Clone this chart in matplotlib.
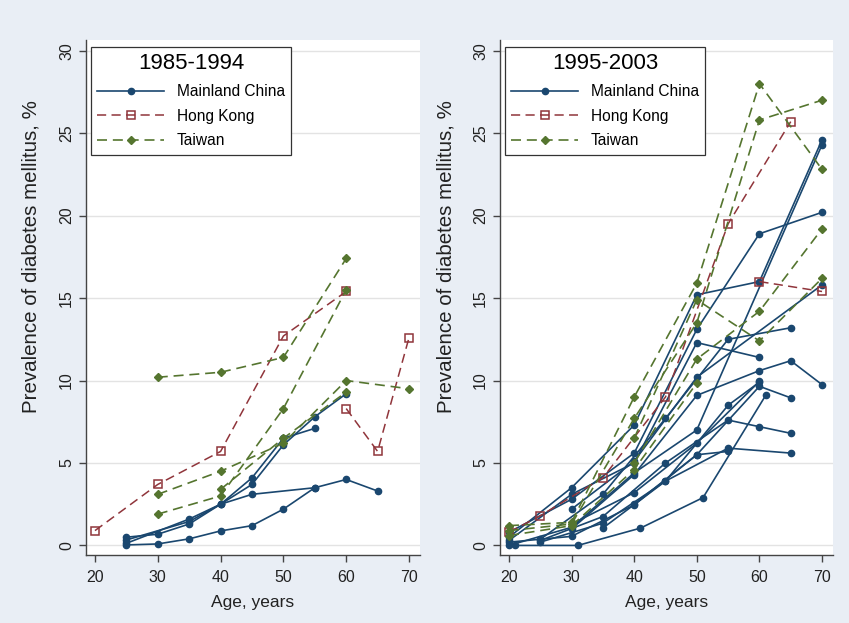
import matplotlib
matplotlib.use('Agg')
import matplotlib.pyplot as plt
from matplotlib.lines import Line2D

plt.rcParams['font.family'] = ['Liberation Sans', 'DejaVu Sans']

# ---- 1985-1994 panel ----
left_china = [
    ([25, 30, 35, 40, 45, 50, 55], [0.03, 0.09, 0.4, 0.88, 1.2, 2.2, 3.5]),
    ([25, 30, 35, 40, 45, 55, 60, 65], [0.5, 0.68, 1.3, 2.5, 3.1, 3.5, 4.0, 3.3]),
    ([25, 35, 40, 45, 50, 55, 60], [0.33, 1.45, 2.5, 3.7, 6.1, 7.8, 9.2]),
    ([25, 35, 40, 45, 50, 55], [0.13, 1.6, 2.5, 4.1, 6.5, 7.1]),
]
left_hongkong = [
    ([20, 30, 40, 50, 60], [0.9, 3.7, 5.7, 12.7, 15.4]),
    ([60, 65, 70], [8.3, 5.7, 12.6]),
]
left_taiwan = [
    ([30, 40, 50, 60], [10.2, 10.5, 11.4, 17.4]),
    ([30, 40, 50, 60, 70], [3.1, 4.5, 6.2, 10.0, 9.5]),
    ([30, 40, 50, 60], [1.9, 3.0, 8.3, 15.5]),
    ([40, 50, 60], [3.4, 6.5, 9.3]),
]

# ---- 1995-2003 panel ----
right_china = [
    ([20, 30, 40, 50, 60, 70], [0.5, 3.5, 7.3, 15.2, 16.0, 24.6]),
    ([20, 30, 40, 50, 60, 70], [0.8, 2.8, 5.6, 13.1, 18.9, 20.2]),
    ([20, 30, 40, 50, 60], [0.3, 3.1, 5.0, 12.3, 11.4]),
    ([30, 40, 50, 70], [2.2, 5.1, 10.2, 15.8]),
    ([20, 30, 40, 50, 70], [0.0, 1.1, 4.4, 7.0, 24.3]),
    ([30, 40, 50, 60, 65, 70], [1.0, 4.3, 9.1, 10.6, 11.2, 9.75]),
    ([25, 35, 45, 55, 65], [0.37, 3.1, 7.7, 12.5, 13.2]),
    ([25, 35, 45, 55, 60, 65], [0.3, 1.75, 5.0, 7.6, 7.2, 6.8]),
    ([25, 35, 45, 55, 65], [0.2, 1.35, 3.9, 5.9, 5.6]),
    ([21, 31, 41, 51, 61], [0.0, 0.0, 1.05, 2.9, 9.1]),
    ([20, 30, 40, 50, 60, 65], [0.2, 0.55, 2.46, 5.5, 9.65, 8.95]),
    ([30, 40, 50, 60], [1.3, 3.2, 6.2, 9.95]),
    ([35, 45, 55, 60], [1.05, 3.9, 8.5, 9.9]),
    ([40, 50, 55], [2.5, 5.5, 5.7]),
]
right_hongkong = [
    ([20, 25, 35, 45, 55, 65], [0.8, 1.8, 4.1, 9.0, 19.5, 25.7]),
    ([60, 70], [16.0, 15.4]),
]
right_taiwan = [
    ([20, 30, 40, 50, 60, 70], [1.2, 1.4, 9.0, 15.9, 28.0, 22.8]),
    ([20, 30, 40, 50, 60, 70], [0.9, 1.3, 7.7, 13.5, 25.8, 27.0]),
    ([40, 50, 60, 70], [6.5, 14.9, 12.4, 16.2]),
    ([40, 50, 60, 70], [5.0, 11.3, 14.2, 19.2]),
    ([20, 30, 40, 50], [0.6, 1.2, 4.6, 9.85]),
]

panel_titles = ['1985-1994', '1995-2003']
legend_labels = ['Mainland China', 'Hong Kong', 'Taiwan']

navy = '#1a476f'
maroon = '#90353b'
green = '#55752f'

china_style = dict(color=navy, lw=1.2, ls='-', marker='o', ms=4.5,
                   mfc=navy, mec=navy)
hk_style = dict(color=maroon, lw=1.1, ls=(0, (6, 3.5)), marker='s', ms=6,
                mfc='none', mec=maroon, mew=1.1)
tw_style = dict(color=green, lw=1.2, ls=(0, (6, 3.5)), marker='D', ms=4.5,
                mfc=green, mec=green)

fig = plt.figure(figsize=(8.49, 6.23), dpi=100)
fig.patch.set_facecolor('#e9eef5')

W, H = 849, 623
axes_px = [(86, 420), (500, 833)]
top_px, bottom_px = 40, 555

panels = [(left_china, left_hongkong, left_taiwan),
          (right_china, right_hongkong, right_taiwan)]

for i, (china, hk, tw) in enumerate(panels):
    x0, x1 = axes_px[i]
    ax = fig.add_axes([x0 / W, 1 - bottom_px / H, (x1 - x0) / W,
                       (bottom_px - top_px) / H])
    ax.set_facecolor('white')
    for x, y in china:
        ax.plot(x, y, **china_style)
    for x, y in hk:
        ax.plot(x, y, **hk_style)
    for x, y in tw:
        ax.plot(x, y, **tw_style)

    ax.set_xlim(18.57, 71.75)
    ax.set_ylim(-0.58, 30.65)
    ax.set_xticks([20, 30, 40, 50, 60, 70])
    ax.set_yticks([0, 5, 10, 15, 20, 25, 30])
    ax.yaxis.grid(True, color='#e3e3e3', lw=1.0)
    ax.set_axisbelow(True)
    for s in ['top', 'right']:
        ax.spines[s].set_visible(False)
    for s in ['left', 'bottom']:
        ax.spines[s].set_color('#444444')
        ax.spines[s].set_linewidth(1.0)
    ax.tick_params(direction='out', length=5, width=1.0, color='#444444',
                   labelsize=11.5, labelcolor='#222222')
    ax.tick_params(axis='x', pad=6)
    plt.setp(ax.get_yticklabels(), rotation=90, va='center')
    ax.set_xlabel('Age, years', fontsize=12.5, color='#222222', labelpad=7)
    ax.set_ylabel('Prevalence of diabetes mellitus, %', fontsize=14.8,
                  color='#222222', labelpad=8)
    ax.yaxis.set_label_coords(-0.135, 0.58)

    handles = [Line2D([], [], **china_style),
               Line2D([], [], **hk_style),
               Line2D([], [], **tw_style)]
    leg = ax.legend(handles, legend_labels, title=panel_titles[i],
                    loc='upper left', bbox_to_anchor=(0.015, 0.986),
                    fontsize=11.2, title_fontsize=16, frameon=True,
                    fancybox=False, edgecolor='#333333', framealpha=1,
                    handlelength=4.3, handletextpad=0.8, labelspacing=0.62,
                    borderpad=0.4, borderaxespad=0)
    leg.get_frame().set_linewidth(0.9)

fig.savefig('out.png', dpi=100, facecolor=fig.get_facecolor())
